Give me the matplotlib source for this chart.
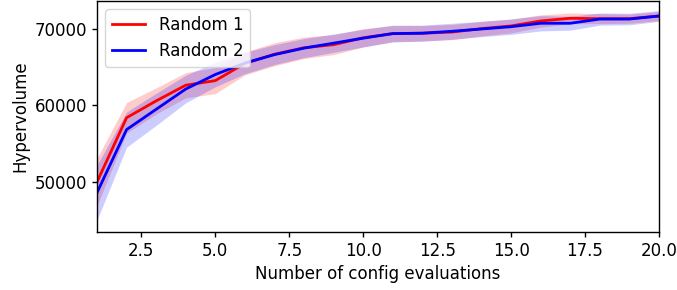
import matplotlib
matplotlib.use("Agg")
import matplotlib.pyplot as plt
import numpy as np

evals = list(range(1, 21))
random1_mean = [50000, 58400, 60600, 62650, 63250, 65500, 66700, 67550, 67950, 68850,
                69400, 69450, 69600, 70050, 70400, 71050, 71400, 71350, 71350, 71700]
random1_std = [3100, 2000, 1700, 1650, 1700, 1500, 1500, 1400, 1300, 1200,
               1050, 1000, 1000, 950, 900, 800, 700, 650, 600, 600]
random2_mean = [48600, 56850, 59500, 62150, 64050, 65550, 66650, 67500, 68150, 68800,
                69400, 69450, 69700, 70000, 70300, 70750, 70750, 71300, 71300, 71700]
random2_std = [3600, 2300, 2100, 1800, 1600, 1400, 1300, 1250, 1200, 1150,
               1100, 1050, 1050, 1000, 1000, 1000, 900, 800, 750, 700]

plt.rcParams['font.size'] = 12
plt.rcParams['axes.linewidth'] = 1.0
plt.rcParams['xtick.major.width'] = 1.0
plt.rcParams['ytick.major.width'] = 1.0

fig = plt.figure(figsize=(6.77, 2.9), dpi=100)
ax = fig.add_axes([97/677, 1 - 232/290, (659-97)/677, 231/290])

x = np.array(evals)
for mean, std, col, lab in [(random1_mean, random1_std, 'red', 'Random 1'),
                            (random2_mean, random2_std, 'blue', 'Random 2')]:
    m = np.array(mean); s = np.array(std)
    ax.plot(x, m, color=col, lw=2, label=lab)
    ax.fill_between(x, m - s, m + s, color=col, alpha=0.2, lw=0)

ax.set_xlim(1, 20)
ax.set_ylim(43460, 73660)
ax.set_yticks([50000, 60000, 70000])
ax.set_xlabel('Number of config evaluations')
ax.set_ylabel('Hypervolume')
ax.legend(loc='upper left')
fig.savefig('out.png', dpi=100)
